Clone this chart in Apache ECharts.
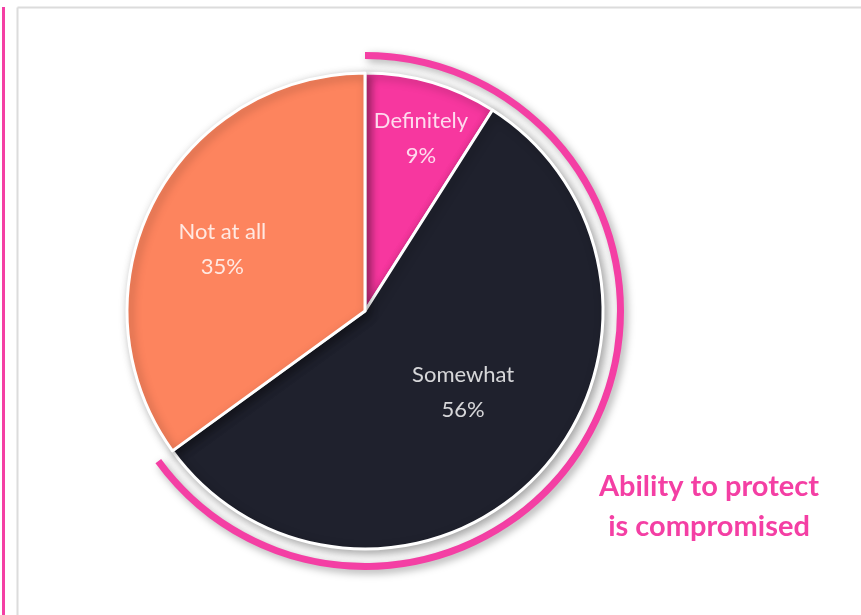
<!DOCTYPE html>
<html>
<head>
<meta charset="utf-8">
<script src="https://cdn.jsdelivr.net/npm/echarts@6/dist/echarts.min.js"></script>
<style>
html,body{margin:0;padding:0;background:#fff;}
#chart{width:861px;height:615px;}
</style>
</head>
<body>
<div id="chart"></div>
<script>
const categories = ['Definitely', 'Somewhat', 'Not at all'];
const values = [9, 56, 35];
const colors = ['#f7379f', '#1f212d', '#fd845e'];
const highlightValues = [65, 35]; // Definitely + Somewhat = compromised
const annotation = ['Ability to protect', 'is compromised'];

// style: radial placement of inside labels (fraction of radius) plus small nudges
const labelRadiusFrac = [0.77, 0.53, 0.66];
const labelNudge = [[4, 6], [4, -7], [0, 11]];
const CX = 365, CY = 311, R = 238;

const total = values.reduce((a, b) => a + b, 0);
const mids = [];
let acc = 0;
values.forEach(v => { mids.push((acc + v / 2) / total * 2 * Math.PI); acc += v; });

const chart = echarts.init(document.getElementById('chart'), null, {renderer: 'canvas'});
chart.setOption({
  animation: false,
  backgroundColor: '#fff',
  graphic: [
    {type: 'rect', shape: {x: 2, y: 7, width: 3, height: 620}, style: {fill: '#f43fa4'}, silent: true},
    {type: 'line', shape: {x1: 17.5, y1: 7.5, x2: 861, y2: 7.5}, style: {stroke: '#dcdcdc', lineWidth: 2}, silent: true},
    {type: 'line', shape: {x1: 17.5, y1: 7.5, x2: 17.5, y2: 620}, style: {stroke: '#dcdcdc', lineWidth: 2}, silent: true},
    {type: 'text', x: 709, y: 487, style: {text: annotation[0], fill: '#f43fa4', font: 'bold 29px Lato', textAlign: 'center', textVerticalAlign: 'middle'}, silent: true},
    {type: 'text', x: 709, y: 527, style: {text: annotation[1], fill: '#f43fa4', font: 'bold 29px Lato', textAlign: 'center', textVerticalAlign: 'middle'}, silent: true}
  ],
  series: [
    {
      type: 'pie',
      center: [CX, CY],
      radius: [252, 259],
      startAngle: 90,
      clockwise: true,
      silent: true,
      label: {show: false},
      labelLine: {show: false},
      data: highlightValues.map((v, i) => ({
        value: v,
        itemStyle: i === 0
          ? {color: '#f43fa4', shadowBlur: 8, shadowColor: 'rgba(0,0,0,0.35)', shadowOffsetX: 3, shadowOffsetY: 3}
          : {color: 'rgba(0,0,0,0)'}
      }))
    },
    {
      type: 'pie',
      center: [CX, CY],
      radius: [0, R],
      startAngle: 90,
      clockwise: true,
      silent: true,
      itemStyle: {borderColor: '#fff', borderWidth: 3, shadowBlur: 10, shadowColor: 'rgba(0,0,0,0.35)', shadowOffsetX: 3, shadowOffsetY: 3},
      label: {
        show: true,
        position: 'inside',
        formatter: p => p.name + '\n' + p.value + '%',
        color: 'rgba(255,255,255,0.82)',
        fontFamily: 'Lato',
        fontSize: 22,
        lineHeight: 35
      },
      labelLine: {show: false},
      labelLayout: function (params) {
        const i = params.dataIndex;
        const f = labelRadiusFrac[i] - 0.5;
        return {
          dx: f * R * Math.sin(mids[i]) + labelNudge[i][0],
          dy: -f * R * Math.cos(mids[i]) + labelNudge[i][1]
        };
      },
      data: categories.map((c, i) => ({name: c, value: values[i], itemStyle: {color: colors[i]}}))
    }
  ]
});
</script>
</body>
</html>
